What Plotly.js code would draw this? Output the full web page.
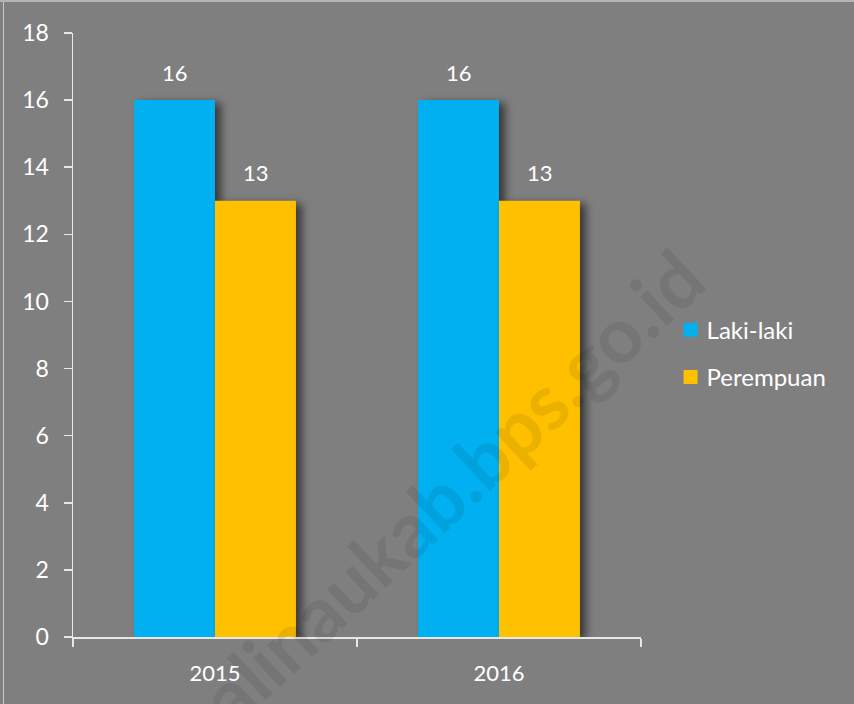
<!DOCTYPE html>
<html>
<head>
<meta charset="utf-8">
<script src="https://cdn.plot.ly/plotly-3.0.1.min.js"></script>
<style>
  html, body { margin: 0; padding: 0; background: #7f7f7f; }
  #wrap { position: relative; width: 854px; height: 704px; overflow: hidden; }
  #chart { width: 854px; height: 704px; }
  .barlayer path { filter: drop-shadow(6px 3px 4px rgba(0,0,0,0.55)); }
  .legendpoints path { transform: translate(24px, 0px) scale(1.17); }
  #bl { position: absolute; left: 3px; top: 0; width: 1px; height: 704px; background: #c8c8c8; }
  #bt { position: absolute; left: 0; top: 0; width: 854px; height: 2px; background: #b4b4b4; }
</style>
</head>
<body>
<div id="wrap">
  <div id="chart"></div>
  <div id="bl"></div>
  <div id="bt"></div>
</div>
<script>
const categories = ["2015", "2016"];
const seriesNames = ["Laki-laki", "Perempuan"];
const lakiLaki = [16, 16];
const perempuan = [13, 13];
const yTicks = [0, 2, 4, 6, 8, 10, 12, 14, 16, 18];
const watermarkText = "malinaukab.bps.go.id";

const fontFamily = "Lato, 'Open Sans', sans-serif";
const colors = ["#00B0F0", "#FFC000"];
const series = [lakiLaki, perempuan];

const traces = series.map((vals, i) => ({
  type: "bar",
  name: seriesNames[i],
  x: categories,
  y: vals,
  marker: { color: colors[i], line: { width: 0 } },
  legendgroup: "g" + i,
  hoverinfo: "none"
}));

const annotations = [];
series.forEach((vals, i) => {
  vals.forEach((v, j) => {
    annotations.push({
      x: j, y: v, xref: "x", yref: "y",
      text: String(v), showarrow: false,
      xshift: (i === 0 ? -40.5 : 40.5), yshift: 28,
      font: { family: fontFamily, size: 22, color: "#ffffff" }
    });
  });
});
annotations.push({
  xref: "paper", yref: "paper", x: 0.625, y: 0.213,
  xanchor: "center", yanchor: "middle",
  text: "<b>" + watermarkText + "</b>", showarrow: false,
  textangle: -43,
  font: { family: fontFamily, size: 77, color: "rgba(0,0,0,0.08)" }
});

const layout = {
  width: 854, height: 704,
  margin: { l: 73, r: 213, t: 33, b: 67 },
  paper_bgcolor: "#7f7f7f",
  plot_bgcolor: "#7f7f7f",
  barmode: "group",
  bargap: 0.43,
  bargroupgap: 0,
  showlegend: true,
  legend: {
    x: 1.045, y: 0.469, xanchor: "left", yanchor: "middle",
    traceorder: "grouped", tracegroupgap: 13,
    font: { family: fontFamily, size: 24, color: "#ffffff" },
    bgcolor: "rgba(0,0,0,0)"
  },
  xaxis: {
    type: "category",
    range: [-0.5, 1.5],
    showline: true, linecolor: "#e8e8e8", linewidth: 1.5,
    ticks: "outside", tickson: "boundaries", ticklen: 8, tickcolor: "#e8e8e8", tickwidth: 1.5,
    showgrid: false, zeroline: false,
    ticklabelstandoff: 16,
    tickfont: { family: fontFamily, size: 22, color: "#ffffff" },
    fixedrange: true
  },
  yaxis: {
    range: [0, 18],
    tickvals: yTicks,
    showline: true, linecolor: "#e8e8e8", linewidth: 1.5,
    ticks: "outside", ticklen: 8, tickcolor: "#e8e8e8", tickwidth: 1.5,
    showgrid: false, zeroline: false,
    ticklabelstandoff: 10,
    tickfont: { family: fontFamily, size: 23, color: "#ffffff" },
    fixedrange: true
  },
  annotations: annotations
};

Plotly.newPlot("chart", traces, layout, { displayModeBar: false, staticPlot: true });
</script>
</body>
</html>
